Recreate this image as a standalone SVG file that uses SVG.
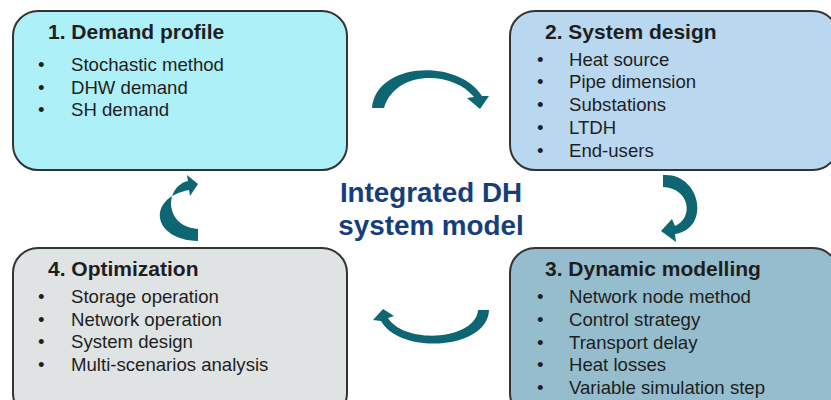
<svg xmlns="http://www.w3.org/2000/svg" width="831" height="400" viewBox="0 0 831 400">
<style>
.box{stroke:#333;stroke-width:2}
.t{font-family:"Liberation Sans",Arial,sans-serif;font-weight:bold;font-size:21px;fill:#1e1e1e}
.b{font-family:"Liberation Sans",Arial,sans-serif;font-size:18.6px;fill:#1e1e1e}
.c{font-family:"Liberation Sans",Arial,sans-serif;font-weight:bold;font-size:27.8px;fill:#163e7c;text-anchor:middle}
.arr{fill:#0d6672}
</style>
<rect width="831" height="400" fill="#fff"/>
<g id="node1">
<rect class="box" x="13" y="11" width="334" height="159" rx="25" fill="#aef0f8"/>
<text class="t" x="48" y="39">1. Demand profile</text>
<text class="b" x="38" y="71">•</text><text class="b" x="71" y="71">Stochastic method</text>
<text class="b" x="38" y="93.5">•</text><text class="b" x="71" y="93.5">DHW demand</text>
<text class="b" x="38" y="116">•</text><text class="b" x="71" y="116">SH demand</text>
</g>
<g id="node2">
<rect class="box" x="510" y="11" width="328" height="159" rx="25" fill="#b9d8f0"/>
<text class="t" x="545" y="39">2. System design</text>
<text class="b" x="537" y="65.5">•</text><text class="b" x="569" y="65.5">Heat source</text>
<text class="b" x="537" y="88.3">•</text><text class="b" x="569" y="88.3">Pipe dimension</text>
<text class="b" x="537" y="111">•</text><text class="b" x="569" y="111">Substations</text>
<text class="b" x="537" y="133.8">•</text><text class="b" x="569" y="133.8">LTDH</text>
<text class="b" x="537" y="156.5">•</text><text class="b" x="569" y="156.5">End-users</text>
</g>
<g id="node3">
<rect class="box" x="510" y="248" width="328" height="170" rx="25" fill="#95bdcd"/>
<text class="t" x="545" y="276">3. Dynamic modelling</text>
<text class="b" x="537" y="303.3">•</text><text class="b" x="569" y="303.3">Network node method</text>
<text class="b" x="537" y="326">•</text><text class="b" x="569" y="326">Control strategy</text>
<text class="b" x="537" y="348.5">•</text><text class="b" x="569" y="348.5">Transport delay</text>
<text class="b" x="537" y="371">•</text><text class="b" x="569" y="371">Heat losses</text>
<text class="b" x="537" y="393.5">•</text><text class="b" x="569" y="393.5">Variable simulation step</text>
</g>
<g id="node4">
<rect class="box" x="13" y="248" width="334" height="170" rx="25" fill="#dfe3e4"/>
<text class="t" x="48" y="276">4. Optimization</text>
<text class="b" x="38" y="303.3">•</text><text class="b" x="71" y="303.3">Storage operation</text>
<text class="b" x="38" y="326">•</text><text class="b" x="71" y="326">Network operation</text>
<text class="b" x="38" y="348.3">•</text><text class="b" x="71" y="348.3">System design</text>
<text class="b" x="38" y="371">•</text><text class="b" x="71" y="371">Multi-scenarios analysis</text>
</g>
<g id="center">
<text class="c" x="431" y="202">Integrated DH</text>
<text class="c" x="431" y="235">system model</text>
</g>
<g id="connectors">
<path class="arr" d="M372,108 C376,62 458,58 482,96 L489,96 L480,109 L467,98 L474,97 C452,70 395,70 384,108 Z"/>
<path class="arr" d="M663,175 C700,172 712,228 675,234 L676,242 L661,231 L672,219 L675,226 C694,218 690,188 663,187 Z"/>
<path class="arr" d="M489,310 C488,350 400,355 381,321 L373,320 L383,309 L394,316 L388,318 C405,345 476,340 478,310 Z"/>
<path class="arr" d="M198,241 C152,240 146,198 189,190 L190,196 L198,184 L187,175 L188,181 C165,186 163,226 198,229 Z"/>
</g>
</svg>
